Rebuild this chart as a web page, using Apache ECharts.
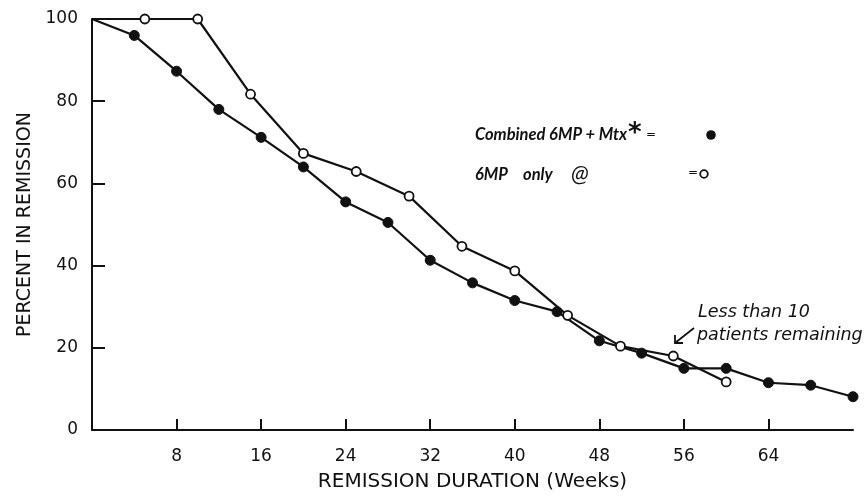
<!DOCTYPE html>
<html>
<head>
<meta charset="utf-8">
<script src="https://cdn.jsdelivr.net/npm/echarts@6/dist/echarts.min.js"></script>
<style>
html,body{margin:0;padding:0;background:#fff;}
#c{width:864px;height:497px;}
</style>
</head>
<body>
<div id="c"></div>
<script>
// Data
var combinedWeeks = [0, 4, 8, 12, 16, 20, 24, 28, 32, 36, 40, 44, 48, 52, 56, 60, 64, 68, 72];
var combinedPct   = [100, 96, 87.3, 78, 71.2, 64, 55.5, 50.5, 41.3, 35.8, 31.5, 28.8, 21.7, 18.7, 15, 15, 11.5, 10.9, 8.1];
var mpWeeks = [0, 5, 10, 15, 20, 25, 30, 35, 40, 45, 50, 55, 60];
var mpPct   = [100, 100, 100, 81.7, 67.3, 62.9, 56.9, 44.7, 38.7, 27.9, 20.4, 18, 11.7];
var xTickLabels = [8, 16, 24, 32, 40, 48, 56, 64];
var yTickLabels = [0, 20, 40, 60, 80, 100];

var FONT = 'DejaVu Sans';
var LEG = 'Lato';
var INK = '#111';

function pairs(xs, ys) {
  return xs.map(function (x, i) {
    var item = { value: [x, ys[i]] };
    if (i === 0) item.symbol = 'none';
    return item;
  });
}

function txt(t, left, top, family, size, extra) {
  var st = { text: t, fontFamily: family, fontStyle: 'italic', fontSize: size, fill: INK };
  if (extra) for (var k in extra) st[k] = extra[k];
  return { type: 'text', left: left, top: top, style: st };
}

var chart = echarts.init(document.getElementById('c'), null, { renderer: 'canvas' });
chart.setOption({
  backgroundColor: '#fff',
  animation: false,
  grid: { left: 92, right: 11, top: 19, bottom: 64, containLabel: false },
  xAxis: {
    type: 'value', min: 0, max: 72, interval: 8,
    name: 'REMISSION DURATION (Weeks)', nameLocation: 'middle', nameGap: 42,
    nameTextStyle: { fontFamily: FONT, fontSize: 20, color: INK },
    axisLine: { lineStyle: { color: INK, width: 2 } },
    axisTick: { inside: true, length: 11, lineStyle: { color: INK, width: 2 }, customValues: xTickLabels },
    axisLabel: { fontFamily: FONT, fontSize: 17, color: INK, margin: 18, customValues: xTickLabels },
    splitLine: { show: false }
  },
  yAxis: {
    type: 'value', min: 0, max: 100, interval: 20,
    name: 'PERCENT IN REMISSION', nameLocation: 'middle', nameGap: 57,
    nameTextStyle: { fontFamily: FONT, fontSize: 19, color: INK },
    axisLine: { show: true, lineStyle: { color: INK, width: 2 } },
    axisTick: { show: true, inside: true, length: 13, lineStyle: { color: INK, width: 2 }, customValues: yTickLabels },
    axisLabel: { fontFamily: FONT, fontSize: 17, color: INK, margin: 14, customValues: yTickLabels },
    splitLine: { show: false }
  },
  series: [
    {
      name: 'Combined 6MP + Mtx', type: 'line',
      data: pairs(combinedWeeks, combinedPct),
      symbol: 'circle', symbolSize: 10, showAllSymbol: true,
      lineStyle: { color: INK, width: 2.2 },
      itemStyle: { color: INK, borderColor: INK, borderWidth: 1 },
      z: 2
    },
    {
      name: '6MP only', type: 'line',
      data: pairs(mpWeeks, mpPct),
      symbol: 'circle', symbolSize: 9, showAllSymbol: true,
      lineStyle: { color: INK, width: 2.2 },
      itemStyle: { color: '#fff', borderColor: INK, borderWidth: 1.8 },
      z: 3
    }
  ],
  graphic: [
    txt('Combined 6MP + Mtx', 475, 126, LEG, 16.5, { fontWeight: 'bold' }),
    { type: 'text', left: 628, top: 121, style: { text: '*', fontFamily: FONT, fontWeight: 'bold', fontSize: 26, fill: INK } },
    { type: 'text', left: 646, top: 129, style: { text: '=', fontFamily: FONT, fontSize: 12, fill: INK } },
    { type: 'circle', shape: { cx: 711, cy: 135, r: 4.8 }, style: { fill: INK } },
    txt('6MP', 475, 166, LEG, 16.5, { fontWeight: 'bold' }),
    txt('only', 523, 166, LEG, 16.5, { fontWeight: 'bold' }),
    txt('@', 571, 162, LEG, 23),
    { type: 'text', left: 688, top: 167, style: { text: '=', fontFamily: FONT, fontSize: 12, fill: INK } },
    { type: 'circle', shape: { cx: 704, cy: 174, r: 3.8 }, style: { fill: '#fff', stroke: INK, lineWidth: 1.8 } },
    txt('Less than 10', 698, 303, FONT, 17.5),
    txt('patients remaining', 697, 326, FONT, 17.5),
    { type: 'line', shape: { x1: 694, y1: 328, x2: 675, y2: 343 }, style: { stroke: INK, lineWidth: 1.8 } },
    { type: 'polyline', shape: { points: [[675, 335], [675, 343], [683, 343]] }, style: { stroke: INK, lineWidth: 1.8, fill: null } }
  ]
});
</script>
</body>
</html>
